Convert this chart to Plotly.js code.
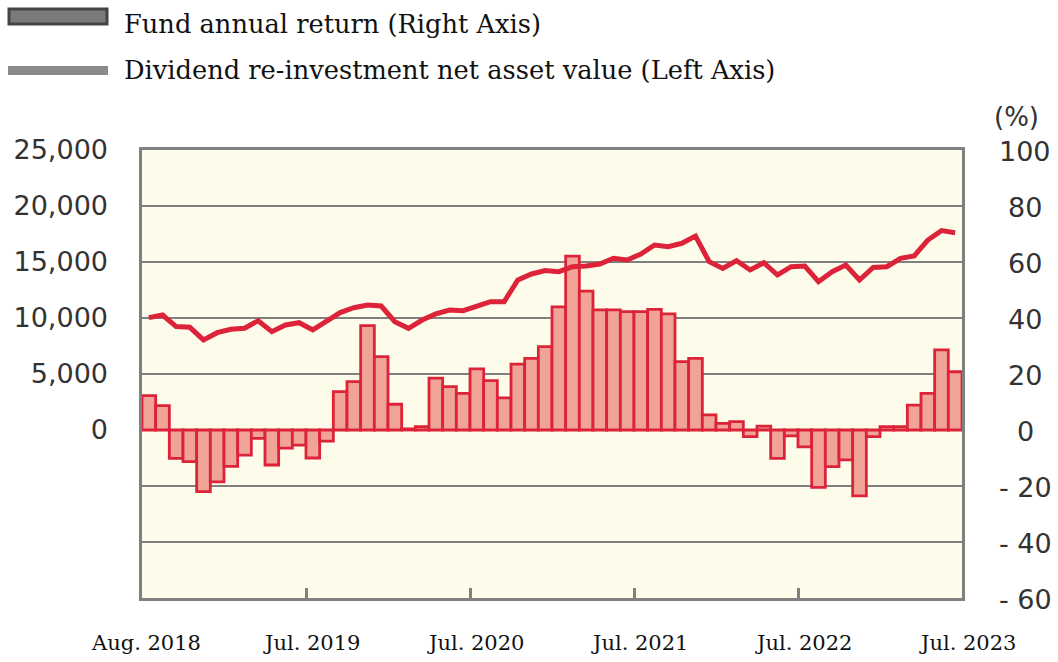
<!DOCTYPE html>
<html>
<head>
<meta charset="utf-8">
<script src="https://cdn.plot.ly/plotly-3.0.1.min.js"></script>
<style>html,body{margin:0;padding:0;background:#fff;}#chart{width:1058px;height:662px;}</style>
</head>
<body>
<div id="chart"></div>
<script>
// ---- data ----
var months = [
 '2018-08','2018-09','2018-10','2018-11','2018-12','2019-01','2019-02','2019-03','2019-04','2019-05','2019-06','2019-07',
 '2019-08','2019-09','2019-10','2019-11','2019-12','2020-01','2020-02','2020-03','2020-04','2020-05','2020-06','2020-07',
 '2020-08','2020-09','2020-10','2020-11','2020-12','2021-01','2021-02','2021-03','2021-04','2021-05','2021-06','2021-07',
 '2021-08','2021-09','2021-10','2021-11','2021-12','2022-01','2022-02','2022-03','2022-04','2022-05','2022-06','2022-07',
 '2022-08','2022-09','2022-10','2022-11','2022-12','2023-01','2023-02','2023-03','2023-04','2023-05','2023-06','2023-07'
];
// Fund annual return (%), right axis
var annualReturn = [
 12.3, 8.7, -10.1, -11.3, -22.0, -18.5, -13.0, -9.0, -3.0, -12.5, -6.5, -5.4,
 -10.0, -4.0, 13.7, 17.3, 37.3, 26.2, 9.2, 0.4, 1.2, 18.5, 15.5, 13.1,
 21.8, 17.6, 11.5, 23.5, 25.6, 29.8, 44.0, 62.1, 49.6, 42.9, 42.9, 42.3,
 42.3, 43.1, 41.5, 24.4, 25.6, 5.4, 2.4, 3.0, -2.4, 1.4, -10.1, -2.1,
 -6.0, -20.5, -13.1, -10.7, -23.5, -2.4, 1.2, 1.2, 8.9, 13.1, 28.6, 20.8
];
// Dividend re-investment net asset value, left axis
var navValue = [
 10030, 10270, 9230, 9170, 8040, 8690, 8990, 9080, 9760, 8780, 9380, 9580,
 8930, 9670, 10480, 10920, 11160, 11070, 9670, 9080, 9820, 10360, 10710, 10650,
 11010, 11460, 11460, 13390, 13930, 14230, 14140, 14580, 14640, 14820, 15330, 15180,
 15710, 16520, 16370, 16670, 17320, 15030, 14430, 15120, 14290, 14940, 13840, 14580,
 14640, 13240, 14140, 14730, 13390, 14520, 14580, 15330, 15540, 16960, 17800, 17620
];
var xLabels = ['Aug. 2018','Jul. 2019','Jul. 2020','Jul. 2021','Jul. 2022','Jul. 2023'];
var xLabelMonths = ['2018-08','2019-07','2020-07','2021-07','2022-07','2023-07'];
var leftTickVals = [-15000,-10000,-5000,0,5000,10000,15000,20000,25000];
var leftTickText = ['','','','0','5,000','10,000','15,000','20,000','25,000'];
var rightTickVals = [100,80,60,40,20,0,-20,-40,-60];
var rightTickText = ['100','80','60','40','20','0','- 20','- 40','- 60'];
var legendNames = ['Fund annual return (Right Axis)','Dividend re-investment net asset value (Left Axis)'];

// ---- layout helpers ----
var W = 1058, H = 662, ML = 142, MR = 96, MT = 150, MB = 64;
var PW = W - ML - MR, PH = H - MT - MB;
function px(x){ return (x - ML) / PW; }
function py(y){ return (H - MB - y) / PH; }

var red = '#dc2339';
var grid = '#808080';
var serif = 'DejaVu Serif, serif';
var sans = 'DejaVu Sans, Verdana, sans-serif';

var traces = [
 {
  type: 'bar', x: months, y: annualReturn, yaxis: 'y', xaxis: 'x',
  name: legendNames[0], width: 1,
  marker: {color: '#f0a498', line: {color: red, width: 2.8}},
  showlegend: false, hoverinfo: 'x+y'
 },
 {
  type: 'scatter', mode: 'lines', x: months, y: navValue, yaxis: 'y2', xaxis: 'x',
  name: legendNames[1], line: {color: red, width: 5},
  showlegend: false, hoverinfo: 'x+y'
 }
];

var annotations = [];
xLabels.forEach(function(t, i){
  var idx = months.indexOf(xLabelMonths[i]);
  var pos = i === 0 ? idx - 0.5 : idx + 0.5;
  annotations.push({xref: 'x', yref: 'paper', x: pos, y: 0, yshift: -45, xshift: i === 0 ? 4 : 5,
    text: t, showarrow: false, xanchor: 'center', yanchor: 'middle',
    font: {family: serif, size: 21, color: '#111'}});
});
rightTickVals.forEach(function(v, i){
  annotations.push({xref: 'paper', yref: 'y', x: px(1025), y: v, yshift: -1, text: rightTickText[i],
    showarrow: false, xanchor: 'center', yanchor: 'middle',
    font: {family: sans, size: 27, color: '#333'}});
});
annotations.push({xref: 'paper', yref: 'paper', x: px(1016), y: py(117), text: '(%)', showarrow: false,
  xanchor: 'center', yanchor: 'middle', font: {family: sans, size: 26, color: '#333'}});
annotations.push({xref: 'paper', yref: 'paper', x: px(122), y: py(24), text: legendNames[0], showarrow: false,
  xanchor: 'left', yanchor: 'middle', font: {family: serif, size: 25.7, color: '#111'}});
annotations.push({xref: 'paper', yref: 'paper', x: px(122), y: py(70), text: legendNames[1], showarrow: false,
  xanchor: 'left', yanchor: 'middle', font: {family: serif, size: 25.7, color: '#111'}});

var shapes = [
 {type: 'rect', xref: 'paper', yref: 'paper', x0: px(9), x1: px(107), y0: py(9), y1: py(24),
  fillcolor: '#7a7a7a', line: {color: '#444', width: 3}},
 {type: 'rect', xref: 'paper', yref: 'paper', x0: px(8), x1: px(108), y0: py(66), y1: py(75),
  fillcolor: '#8a8a8a', line: {width: 0}}
];

var layout = {
  width: W, height: H,
  margin: {l: ML, r: MR, t: MT, b: MB, pad: 0},
  paper_bgcolor: '#ffffff', plot_bgcolor: '#fdfbea',
  bargap: 0, showlegend: false,
  xaxis: {
    type: 'category', range: [-0.5, months.length - 0.5],
    tickvals: [11.5, 23.5, 35.5, 47.5], ticktext: ['', '', '', ''],
    ticks: 'inside', ticklen: 10, tickwidth: 3, tickcolor: grid,
    showgrid: false, zeroline: false,
    showline: true, mirror: true, linecolor: grid, linewidth: 3
  },
  yaxis: {
    side: 'right', range: [-60, 100], tickvals: rightTickVals,
    showticklabels: false, ticks: '',
    showgrid: true, gridcolor: grid, gridwidth: 2.5, zeroline: false,
    showline: true, mirror: true, linecolor: grid, linewidth: 3
  },
  yaxis2: {
    overlaying: 'y', side: 'left', range: [-15000, 25000],
    tickvals: leftTickVals, ticktext: leftTickText, ticks: '',
    ticklabelstandoff: 33,
    tickfont: {family: sans, size: 27, color: '#333'},
    showgrid: false, zeroline: false, showline: false
  },
  annotations: annotations,
  shapes: shapes
};

Plotly.newPlot('chart', traces, layout, {displayModeBar: false, staticPlot: true});
</script>
</body>
</html>
